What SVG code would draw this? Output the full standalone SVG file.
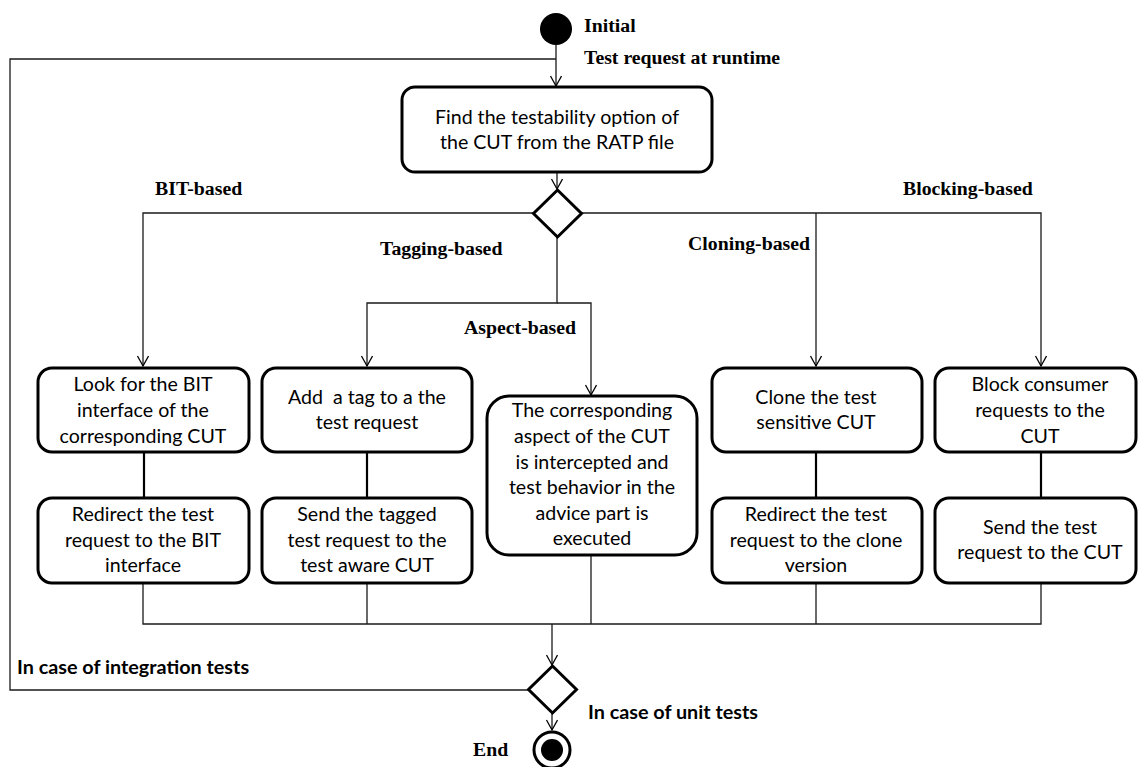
<svg xmlns="http://www.w3.org/2000/svg" width="1139" height="767" viewBox="0 0 1139 767">
<defs>
<marker id="arr" markerUnits="userSpaceOnUse" markerWidth="14" markerHeight="14" refX="11" refY="6" orient="auto">
<path d="M1,0.5 L11,6 L1,11.5" fill="none" stroke="#000" stroke-width="1.3"/>
</marker>
<style>
.box{fill:#fff;stroke:#000;stroke-width:3}
.bt{font-family:Lato,"Open Sans",sans-serif;font-size:19.6px;fill:#000;text-anchor:middle}
.lbl{font-family:"Liberation Serif","Times New Roman",serif;font-weight:bold;font-size:19.8px;fill:#000}
.slbl{font-family:Lato,"Open Sans",sans-serif;font-weight:bold;font-size:19.8px;fill:#000}
.c{fill:none;stroke:#1a1a1a;stroke-width:1.3}
.cb{fill:none;stroke:#000;stroke-width:2.2}
.dia{fill:#fff;stroke:#000;stroke-width:3}
</style>
</defs>
<rect width="1139" height="767" fill="#fff"/>
<g id="connectors">
<path class="c" d="M556,45 V86" marker-end="url(#arr)"/>
<path class="c" d="M528,690 H10 V59 H556"/>
<path class="c" d="M557,172 V189" marker-end="url(#arr)"/>
<path class="c" d="M533,213 H143 V366" marker-end="url(#arr)"/>
<path class="c" d="M582,213 H1041 V366" marker-end="url(#arr)"/>
<path class="c" d="M816,213 V366" marker-end="url(#arr)"/>
<path class="c" d="M557,237 V303 H367 V366" marker-end="url(#arr)"/>
<path class="c" d="M557,303 H591 V395" marker-end="url(#arr)"/>
<path class="cb" d="M144,452 V498 M367,452 V498 M816,452 V498 M1041,452 V498"/>
<path class="c" d="M143,583 V624 H1041 V583 M367,583 V624 M591,555 V624 M816,583 V624"/>
<path class="c" d="M552,624 V665" marker-end="url(#arr)"/>
<path class="c" d="M552,713 V730" marker-end="url(#arr)"/>
</g>
<g id="initial">
<circle cx="556" cy="29" r="16" fill="#000"/>
<text class="lbl" x="584" y="32">Initial</text>
<text class="lbl" x="584" y="64">Test request at runtime</text>
</g>
<g id="find">
<rect class="box" x="402" y="87" width="310" height="85" rx="13"/>
<text class="bt" x="557" y="124">Find the testability option of</text>
<text class="bt" x="557" y="149">the CUT from the RATP file</text>
</g>
<g id="decision1">
<path class="dia" d="M557.5,190 L581.5,213.5 L557.5,237 L533.5,213.5 Z"/>
</g>
<g id="labels">
<text class="lbl" x="155" y="195">BIT-based</text>
<text class="lbl" x="380" y="255">Tagging-based</text>
<text class="lbl" x="464" y="334">Aspect-based</text>
<text class="lbl" x="688" y="250">Cloning-based</text>
<text class="lbl" x="903" y="195">Blocking-based</text>
</g>
<g id="bit1">
<rect class="box" x="38" y="368" width="211" height="84" rx="14"/>
<text class="bt" x="143" y="391">Look for the BIT</text>
<text class="bt" x="143" y="417">interface of the</text>
<text class="bt" x="143" y="443">corresponding CUT</text>
</g>
<g id="bit2">
<rect class="box" x="38" y="498" width="211" height="85" rx="14"/>
<text class="bt" x="143" y="521">Redirect the test</text>
<text class="bt" x="143" y="547">request to the BIT</text>
<text class="bt" x="143" y="572">interface</text>
</g>
<g id="tag1">
<rect class="box" x="262" y="368" width="210" height="84" rx="14"/>
<text class="bt" x="367" y="404" xml:space="preserve">Add  a tag to a the</text>
<text class="bt" x="367" y="429">test request</text>
</g>
<g id="tag2">
<rect class="box" x="262" y="498" width="210" height="85" rx="14"/>
<text class="bt" x="367" y="521">Send the tagged</text>
<text class="bt" x="367" y="547">test request to the</text>
<text class="bt" x="367" y="572">test aware CUT</text>
</g>
<g id="aspect">
<rect class="box" x="487" y="396" width="210" height="159" rx="22"/>
<text class="bt" x="592" y="417">The corresponding</text>
<text class="bt" x="592" y="443">aspect of the CUT</text>
<text class="bt" x="592" y="469">is intercepted and</text>
<text class="bt" x="592" y="494">test behavior in the</text>
<text class="bt" x="592" y="520">advice part is</text>
<text class="bt" x="592" y="545">executed</text>
</g>
<g id="clone1">
<rect class="box" x="712" y="368" width="210" height="84" rx="14"/>
<text class="bt" x="816" y="404">Clone the test</text>
<text class="bt" x="816" y="429">sensitive CUT</text>
</g>
<g id="clone2">
<rect class="box" x="712" y="498" width="210" height="85" rx="14"/>
<text class="bt" x="816" y="521">Redirect the test</text>
<text class="bt" x="816" y="547">request to the clone</text>
<text class="bt" x="816" y="572">version</text>
</g>
<g id="block1">
<rect class="box" x="935" y="368" width="201" height="84" rx="14"/>
<text class="bt" x="1040" y="391">Block consumer</text>
<text class="bt" x="1040" y="417">requests to the</text>
<text class="bt" x="1040" y="443">CUT</text>
</g>
<g id="block2">
<rect class="box" x="935" y="498" width="201" height="85" rx="14"/>
<text class="bt" x="1040" y="534">Send the test</text>
<text class="bt" x="1040" y="559">request to the CUT</text>
</g>
<g id="decision2">
<path class="dia" d="M552.5,666 L576.5,689.5 L552.5,713 L528.5,689.5 Z"/>
<text class="slbl" x="17" y="674">In case of integration tests</text>
<text class="slbl" x="588" y="719">In case of unit tests</text>
</g>
<g id="end">
<circle cx="552" cy="750" r="18" fill="#fff" stroke="#000" stroke-width="3"/>
<circle cx="552" cy="750" r="11" fill="#000"/>
<text class="lbl" x="473" y="756">End</text>
</g>
</svg>
